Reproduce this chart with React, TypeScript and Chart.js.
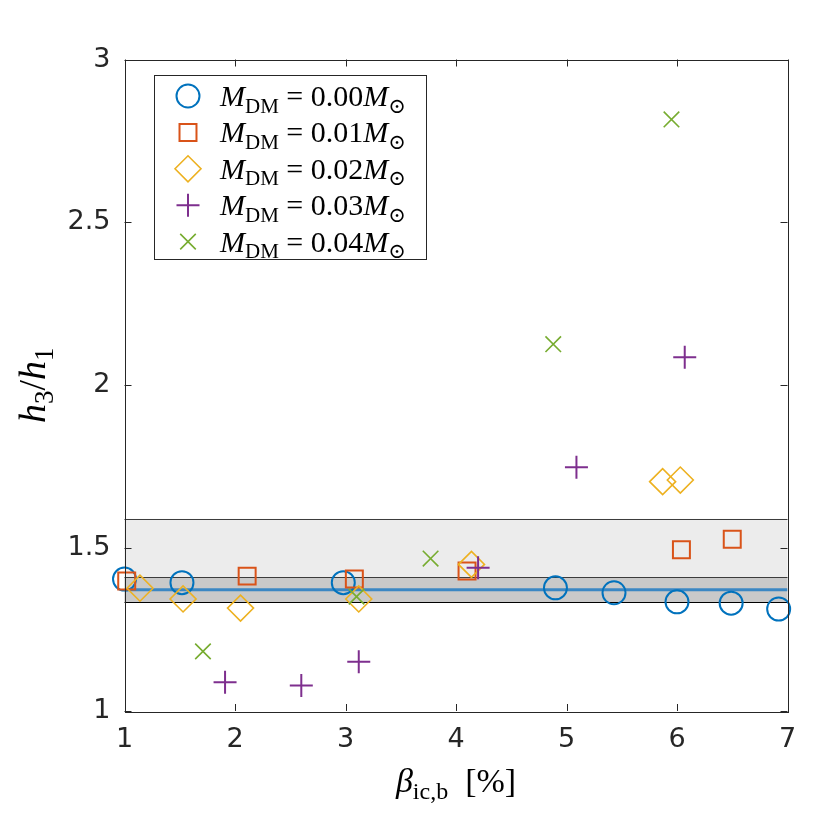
import React, { useEffect, useRef } from 'react';
import { Chart, registerables } from 'chart.js';
import { drawPoint } from 'chart.js/helpers';

Chart.register(...registerables);

// axis ticks
const xTicks = [1, 2, 3, 4, 5, 6, 7];
const yTicks = [1, 1.5, 2, 2.5, 3];

// series: beta_ic,b [%] vs h3/h1, one per dark matter mass
const massLabels = ['0.00', '0.01', '0.02', '0.03', '0.04'];

const beta00 = [1.0, 1.52, 2.98, 4.9, 5.43, 6.0, 6.49, 6.92];
const ratio00 = [1.405, 1.394, 1.394, 1.378, 1.363, 1.335, 1.331, 1.313];

const beta01 = [1.02, 2.11, 3.08, 4.1, 6.04, 6.5];
const ratio01 = [1.399, 1.414, 1.405, 1.43, 1.495, 1.527];

const beta02 = [1.14, 1.53, 2.05, 3.12, 4.14, 5.87, 6.03];
const ratio02 = [1.377, 1.344, 1.316, 1.344, 1.45, 1.704, 1.709];

const beta03 = [1.91, 2.6, 3.12, 4.2, 5.09, 6.07];
const ratio03 = [1.088, 1.078, 1.151, 1.44, 1.748, 2.086];

const beta04 = [1.71, 3.1, 3.77, 4.88, 5.95];
const ratio04 = [1.183, 1.351, 1.468, 2.126, 2.816];

// mean value and shaded ranges
const meanRatio = 1.372;
const outerBand = [1.334, 1.59];
const innerBand = [1.334, 1.41];

const colors = ['#0072BD', '#D95319', '#EDB120', '#7E2F8E', '#77AC30'];
const styles = ['circle', 'rect', 'rectRot', 'cross', 'crossRot'];
const radii = [11.5, 12, 13, 11.5, 11];
const widths = [2, 2, 1.6, 2, 1.6];

const seriesX = [beta00, beta01, beta02, beta03, beta04];
const seriesY = [ratio00, ratio01, ratio02, ratio03, ratio04];

const AXIS = '#262626';
const SERIF = '"Liberation Serif", "DejaVu Serif", serif';

type Seg = { t: string; s: 'it' | 'rm' | 'sub' };

function segFont(s: string, size: number) {
  if (s === 'it') return `italic ${size}px ${SERIF}`;
  if (s === 'sub') return `${Math.round(size * 0.7)}px ${SERIF}`;
  return `${size}px ${SERIF}`;
}

function richWidth(ctx: CanvasRenderingContext2D, segs: Seg[], size: number) {
  let w = 0;
  segs.forEach(g => {
    ctx.font = segFont(g.s, size);
    w += ctx.measureText(g.t).width;
  });
  return w;
}

function drawRich(ctx: CanvasRenderingContext2D, segs: Seg[], x: number, y: number, size: number) {
  let cx = x;
  ctx.textBaseline = 'alphabetic';
  ctx.textAlign = 'left';
  segs.forEach(g => {
    ctx.font = segFont(g.s, size);
    ctx.fillText(g.t, cx, g.s === 'sub' ? y + size * 0.22 : y);
    cx += ctx.measureText(g.t).width;
  });
}

const decor = {
  id: 'decor',
  beforeDatasetsDraw(chart: any) {
    const { ctx, chartArea: a, scales } = chart;
    const y = scales.y;
    ctx.save();
    const yo1 = y.getPixelForValue(outerBand[1]);
    const yo0 = y.getPixelForValue(outerBand[0]);
    const yi1 = y.getPixelForValue(innerBand[1]);
    ctx.fillStyle = '#ececec';
    ctx.fillRect(a.left, yo1, a.right - a.left, yo0 - yo1);
    ctx.fillStyle = '#c9c9c9';
    ctx.fillRect(a.left, yi1, a.right - a.left, yo0 - yi1);
    ctx.lineWidth = 1;
    ctx.strokeStyle = '#3c3c3c';
    [yo1, yi1].forEach(p => {
      ctx.beginPath();
      ctx.moveTo(a.left, Math.round(p) + 0.5);
      ctx.lineTo(a.right, Math.round(p) + 0.5);
      ctx.stroke();
    });
    ctx.strokeStyle = '#000';
    ctx.beginPath();
    ctx.moveTo(a.left, Math.round(yo0) + 0.5);
    ctx.lineTo(a.right, Math.round(yo0) + 0.5);
    ctx.stroke();
    ctx.restore();
  },
  afterDraw(chart: any) {
    const { ctx, chartArea: a, scales } = chart;
    ctx.save();
    // box and inward ticks
    ctx.strokeStyle = AXIS;
    ctx.lineWidth = 1;
    ctx.strokeRect(Math.round(a.left) + 0.5, Math.round(a.top) + 0.5, Math.round(a.right - a.left), Math.round(a.bottom - a.top));
    const tl = 7;
    ctx.beginPath();
    xTicks.forEach(v => {
      const p = Math.round(scales.x.getPixelForValue(v)) + 0.5;
      ctx.moveTo(p, a.bottom);
      ctx.lineTo(p, a.bottom - tl);
      ctx.moveTo(p, a.top);
      ctx.lineTo(p, a.top + tl);
    });
    yTicks.forEach(v => {
      const p = Math.round(scales.y.getPixelForValue(v)) + 0.5;
      ctx.moveTo(a.left, p);
      ctx.lineTo(a.left + tl, p);
      ctx.moveTo(a.right, p);
      ctx.lineTo(a.right - tl, p);
    });
    ctx.stroke();

    // legend
    const lx = 154.5, ly = 75.5, lw = 272, lh = 184;
    ctx.fillStyle = '#fff';
    ctx.fillRect(lx, ly, lw, lh);
    ctx.strokeStyle = AXIS;
    ctx.strokeRect(lx, ly, lw, lh);
    massLabels.forEach((m, i) => {
      const cy = 96 + i * 36.4;
      ctx.fillStyle = 'rgba(0,0,0,0)';
      ctx.strokeStyle = colors[i];
      ctx.lineWidth = widths[i];
      drawPoint(ctx, { pointStyle: styles[i], radius: radii[i], rotation: 0, borderWidth: widths[i] } as any, 188, cy);
      ctx.fillStyle = '#000';
      drawRich(ctx, [
        { t: 'M', s: 'it' },
        { t: 'DM', s: 'sub' },
        { t: ' = ' + m, s: 'rm' },
        { t: 'M', s: 'it' },
        { t: '\u2299', s: 'sub' },
      ], 220, cy + 10, 30);
    });

    // axis titles
    ctx.fillStyle = '#000';
    const xt: Seg[] = [
      { t: '\u03B2', s: 'it' },
      { t: 'ic,b', s: 'sub' },
      { t: '  [%]', s: 'rm' },
    ];
    const xw = richWidth(ctx, xt, 34);
    drawRich(ctx, xt, (a.left + a.right) / 2 - xw / 2, 792, 34);

    const yt: Seg[] = [
      { t: 'h', s: 'it' },
      { t: '3', s: 'sub' },
      { t: '/', s: 'rm' },
      { t: 'h', s: 'it' },
      { t: '1', s: 'sub' },
    ];
    const yw = richWidth(ctx, yt, 38);
    ctx.translate(45, (a.top + a.bottom) / 2);
    ctx.rotate(-Math.PI / 2);
    drawRich(ctx, yt, -yw / 2, 0, 38);
    ctx.restore();
  },
};

const App = () => {
  const canvasRef = useRef<HTMLCanvasElement | null>(null);

  useEffect(() => {
    const ctx = canvasRef.current?.getContext('2d') as any;
    const scatterSets = seriesX.map((xs, i) => ({
      type: 'scatter' as const,
      label: massLabels[i],
      data: xs.map((x, j) => ({ x, y: seriesY[i][j] })),
      pointStyle: styles[i],
      pointRadius: radii[i],
      pointBorderWidth: widths[i],
      borderColor: colors[i],
      backgroundColor: 'rgba(0,0,0,0)',
      showLine: false,
      order: 4 - i,
      clip: false as any,
    }));
    const chart = new Chart(ctx, {
      type: 'scatter',
      data: {
        datasets: [
          ...scatterSets,
          {
            type: 'line' as const,
            label: 'mean',
            data: [
              { x: xTicks[0], y: meanRatio },
              { x: xTicks[xTicks.length - 1], y: meanRatio },
            ],
            borderColor: '#3b87c3',
            borderWidth: 3,
            pointRadius: 0,
            order: 10,
          } as any,
        ],
      },
      options: {
        responsive: false,
        animation: false,
        devicePixelRatio: 1,
        events: [],
        layout: { padding: { top: 59.5, right: 42.5, left: 0, bottom: 0 } },
        scales: {
          x: {
            type: 'linear',
            min: 1,
            max: 7,
            afterFit: (s: any) => { s.height = 107; },
            afterBuildTicks: (s: any) => { s.ticks = xTicks.map(v => ({ value: v })); },
            grid: { display: false, drawTicks: false },
            border: { display: false },
            ticks: {
              color: AXIS,
              padding: 13,
              font: { family: '"DejaVu Sans"', size: 27 },
              callback: (v: any) => String(v),
            },
          },
          y: {
            type: 'linear',
            min: 1,
            max: 3,
            afterFit: (s: any) => { s.width = 124.5; },
            afterBuildTicks: (s: any) => { s.ticks = yTicks.map(v => ({ value: v })); },
            grid: { display: false, drawTicks: false },
            border: { display: false },
            ticks: {
              color: AXIS,
              padding: 14,
              font: { family: '"DejaVu Sans"', size: 27 },
              callback: (v: any) => String(v),
            },
          },
        },
        plugins: {
          legend: { display: false },
          tooltip: { enabled: false },
        },
      },
      plugins: [decor],
    });

    return () => {
      chart.destroy();
    };
  }, [canvasRef]);

  return (
    <div style={{ position: 'absolute', left: 0, top: 0, width: 830, height: 818, background: '#fff' }}>
      <canvas ref={canvasRef} width={830} height={818} />
    </div>
  );
};

export default App;
